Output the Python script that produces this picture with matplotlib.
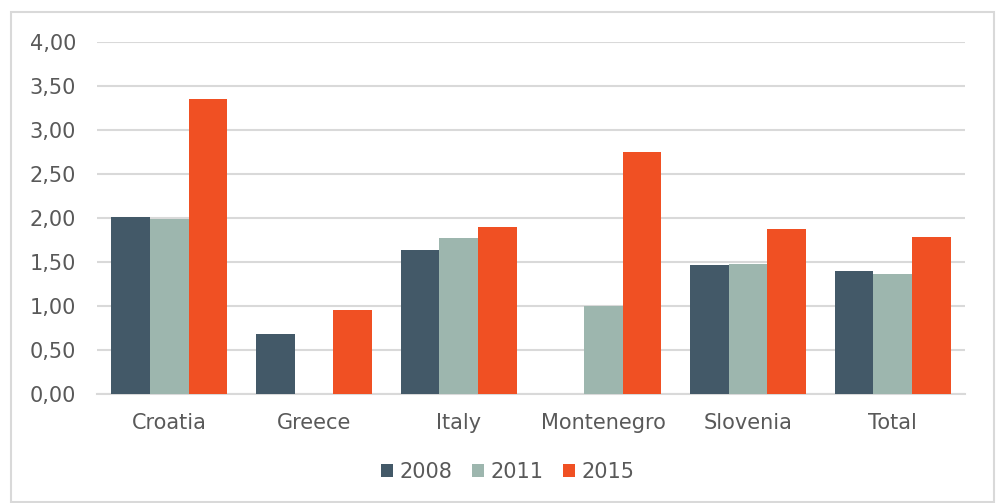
import matplotlib.pyplot as plt
import numpy as np
from matplotlib.patches import Rectangle
from matplotlib.ticker import FuncFormatter

countries = ["Croatia", "Greece", "Italy", "Montenegro", "Slovenia", "Total"]
years = ["2008", "2011", "2015"]
vals_2008 = [2.01, 0.68, 1.63, 0.0, 1.46, 1.40]
vals_2011 = [1.99, 0.0, 1.77, 1.00, 1.48, 1.36]
vals_2015 = [3.35, 0.95, 1.90, 2.75, 1.87, 1.78]

colors = ["#435968", "#9DB6AE", "#F05023"]
text_col = "#595959"
grid_col = "#D9D9D9"

fig = plt.figure(figsize=(10.02, 5.03), dpi=100)
ax = fig.add_axes([97 / 1002, 109 / 503, 868 / 1002, 352.3 / 503])

x = np.arange(len(countries))
w = 0.8 / 3
for i, (vals, yr) in enumerate(zip([vals_2008, vals_2011, vals_2015], years)):
    ax.bar(x + (i - 1) * w, vals, width=w, color=colors[i], label=yr, zorder=3)

ax.set_xlim(-0.5, len(countries) - 0.5)
ax.set_ylim(0, 4)
ax.set_yticks(np.arange(0, 4.01, 0.5))
ax.yaxis.set_major_formatter(FuncFormatter(lambda v, p: f"{v:.2f}".replace(".", ",")))
ax.set_xticks(x)
ax.set_xticklabels(countries)
ax.tick_params(axis="both", length=0, labelsize=15, colors=text_col)
ax.tick_params(axis="y", pad=15)
ax.tick_params(axis="x", pad=14)
ax.grid(axis="y", color=grid_col, lw=1.5, zorder=0)
for s in ["top", "right", "left"]:
    ax.spines[s].set_visible(False)
ax.spines["bottom"].set_color(grid_col)
ax.spines["bottom"].set_linewidth(1.5)

leg = fig.legend(loc="center", bbox_to_anchor=(508 / 1002, 1 - 472 / 503), ncol=3,
                 frameon=False, fontsize=15, handlelength=0.55, handleheight=0.55,
                 handletextpad=0.33, columnspacing=0.95)
for t in leg.get_texts():
    t.set_color(text_col)

# chart border
fig.patches.append(Rectangle((11 / 1002, 1 / 503), 983 / 1002, 490 / 503,
                             transform=fig.transFigure, fill=False,
                             edgecolor=grid_col, lw=1.5))

fig.savefig("out.png", dpi=100)
